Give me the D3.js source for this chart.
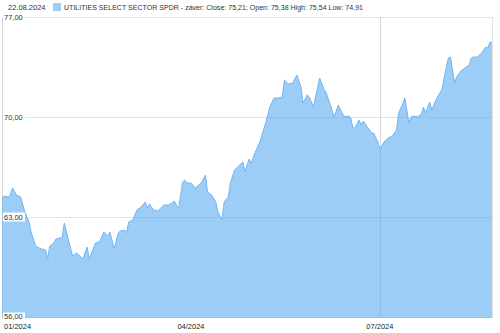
<!DOCTYPE html>
<html><head><meta charset="utf-8">
<script src="https://cdn.jsdelivr.net/npm/d3@7"></script>
<style>body{margin:0;background:#fff}svg{display:block}text{font-family:"Liberation Sans",Arial,sans-serif}</style>
</head><body>
<svg id="c" width="500" height="333"></svg>
<script>
const dates = ["01-01","01-02","01-04","01-05","01-06","01-08","01-09","01-10","01-12","01-14","01-15","01-17","01-18","01-20","01-22","01-23","01-24","01-26","01-27","01-29","01-30","01-31","02-02","02-04","02-06","02-07","02-09","02-11","02-12","02-15","02-17","02-19","02-21","02-22","02-24","02-26","02-27","02-29","03-01","03-02","03-04","03-06","03-08","03-10","03-11","03-12","03-14","03-16","03-18","03-19","03-21","03-23","03-24","03-26","03-28","03-29","03-30","04-01","04-03","04-06","04-08","04-09","04-11","04-13","04-14","04-16","04-17","04-19","04-20","04-22","04-26","04-27","04-29","04-30","05-02","05-04","05-07","05-09","05-11","05-13","05-15","05-16","05-18","05-20","05-22","05-24","05-25","05-27","05-28","05-30","06-02","06-04","06-05","06-07","06-09","06-11","06-12","06-14","06-16","06-17","06-18","06-19","06-21","06-22","06-23","06-25","06-27","06-28","06-30","07-01","07-03","07-05","07-07","07-09","07-10","07-12","07-13","07-15","07-16","07-17","07-19","07-21","07-22","07-23","07-25","07-26","07-28","07-29","07-31","08-01","08-03","08-04","08-06","08-07","08-09","08-11","08-13","08-14","08-15","08-17","08-19","08-21","08-22","08-23","08-24"];
const closes = [64.33,64.47,64.40,64.54,65.03,64.54,64.47,64.40,63.35,62.65,61.95,61.04,60.90,60.76,60.69,60.06,60.97,61.18,61.46,61.53,61.60,62.58,61.39,60.27,60.48,60.34,60.06,60.90,60.06,61.18,61.25,61.95,61.67,61.95,60.76,61.88,62.02,62.09,61.88,62.65,62.79,63.49,63.70,64.05,63.63,63.91,63.49,63.42,63.70,63.84,63.84,63.98,64.12,63.56,65.45,65.59,65.38,65.38,65.03,65.38,65.94,64.75,64.54,64.05,63.35,62.79,64.05,64.40,65.38,66.29,66.85,66.15,67.06,66.78,67.55,68.18,69.58,70.70,71.33,71.33,71.40,72.59,72.31,72.38,72.94,72.10,70.98,71.54,71.40,70.70,72.73,71.96,71.75,70.91,70.00,70.84,70.49,70.00,70.07,69.93,69.23,69.23,69.79,69.44,69.72,69.30,68.88,68.88,68.25,67.76,68.25,68.53,68.67,69.09,70.28,70.91,71.33,69.58,70.00,70.07,70.00,70.21,70.70,70.28,71.05,70.49,71.19,71.47,71.96,72.80,74.13,74.20,72.38,72.80,73.22,73.43,73.64,74.13,74.20,74.20,74.48,74.90,74.83,75.25,75.21];
const yTicks = [56, 63, 70, 77];
const xTicks = ["2024-01-01","2024-04-01","2024-07-01"];
const xGridDates = ["2024-01-01","2024-07-01"];
const headerDate = "22.08.2024";
const seriesLabel = "UTILITIES SELECT SECTOR SPDR - záver: Close: 75,21; Open: 75,38 High: 75,54 Low: 74,91";

const parse = d3.timeParse("%Y-%m-%d");
const data = dates.map((d,i)=>({date:parse("2024-"+d), v:closes[i]}));

const L=2, R=492, T=17, B=317;
const x = d3.scaleTime().domain([parse("2024-01-01"), parse("2024-08-24")]).range([L, R]);
const y = d3.scaleLinear().domain([56,77]).range([B, T]);
const svg = d3.select("#c");
const fmt = v => d3.format(".2f")(v).replace(".", ",");

// grid
svg.append("g").selectAll("line").data(yTicks).join("line")
  .attr("x1", L).attr("x2", R).attr("y1", d=>y(d)+0.5).attr("y2", d=>y(d)+0.5)
  .attr("stroke", "#e2e2e2").attr("stroke-width", 1);
svg.append("g").selectAll("line").data(xGridDates).join("line")
  .attr("x1", d=>Math.round(x(parse(d)))+0.5).attr("x2", d=>Math.round(x(parse(d)))+0.5)
  .attr("y1", T).attr("y2", B+1).attr("stroke", "#d8d8d8");
svg.append("line").attr("x1", R+0.5).attr("x2", R+0.5).attr("y1", T).attr("y2", B+1).attr("stroke", "#e2e2e2");

// area
const area = d3.area().x(d=>x(d.date)).y0(B+1).y1(d=>y(d.v));
const line = d3.line().x(d=>x(d.date)).y(d=>y(d.v));
svg.append("path").datum(data).attr("d", area).attr("fill", "rgb(90,172,240)").attr("fill-opacity", 0.6);
svg.append("path").datum(data).attr("d", line).attr("fill", "none").attr("stroke", "#74b5ee").attr("stroke-width", 1);

// y labels with white boxes
const yl = svg.append("g").selectAll("g").data(yTicks).join("g");
yl.append("rect").attr("x", 3).attr("y", d=>y(d)-4.5).attr("width", 22).attr("height", 9).attr("fill", "#fff");
yl.append("text").attr("x", 4).attr("y", d=> d===56 ? y(d)+2 : y(d)+3).attr("font-size", 7.5).attr("fill", "#333").text(d=>fmt(d));

// x labels
const xf = d3.timeFormat("%m/%Y");
svg.append("g").selectAll("text").data(xTicks).join("text")
  .attr("x", (d,i)=> i===0 ? 4 : x(parse(d)))
  .attr("text-anchor", (d,i)=> i===0 ? "start" : "middle")
  .attr("y", 328.5).attr("font-size", 7.5).attr("fill", "#222").text(d=>xf(parse(d)));

// header / legend
svg.append("text").attr("x", 8).attr("y", 10).attr("font-size", 7.5).attr("fill", "#333").text(headerDate);
svg.append("rect").attr("x", 53).attr("y", 3).attr("width", 8).attr("height", 8).attr("fill", "rgb(90,172,240)").attr("fill-opacity", 0.6);
svg.append("text").attr("x", 64).attr("y", 10).attr("font-size", 7.5).attr("fill", "#333")
  .attr("textLength", 299).attr("lengthAdjust", "spacingAndGlyphs").text(seriesLabel);
</script>
</body></html>
